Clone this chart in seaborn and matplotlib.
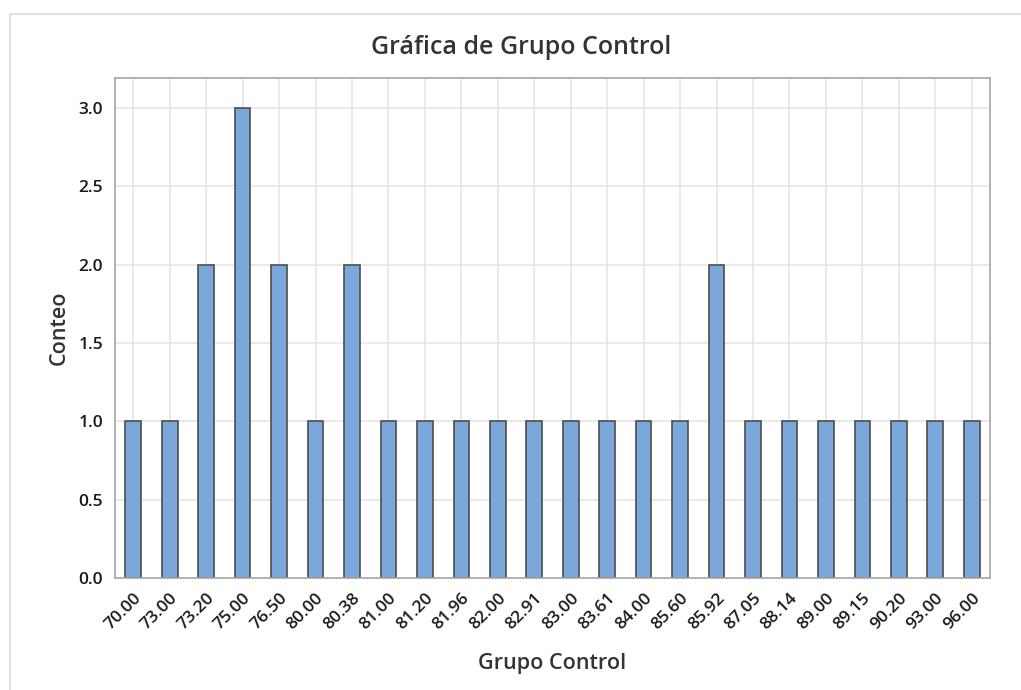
import matplotlib
matplotlib.use("Agg")
import matplotlib.pyplot as plt
import seaborn as sns
import pandas as pd
from matplotlib.lines import Line2D

# datos
valores = ["70.00", "73.00", "73.20", "75.00", "76.50", "80.00", "80.38", "81.00",
           "81.20", "81.96", "82.00", "82.91", "83.00", "83.61", "84.00", "85.60",
           "85.92", "87.05", "88.14", "89.00", "89.15", "90.20", "93.00", "96.00"]
conteo = [1, 1, 2, 3, 2, 1, 2, 1, 1, 1, 1, 1, 1, 1, 1, 1, 2, 1, 1, 1, 1, 1, 1, 1]

df = pd.DataFrame({"Grupo Control": valores, "Conteo": conteo})

sns.set_style("white")
plt.rcParams["font.family"] = ["Open Sans", "DejaVu Sans"]

fig = plt.figure(figsize=(10.21, 6.9), dpi=100)
ax = fig.add_axes([115 / 1021, 1 - 578 / 690, 875 / 1021, 500 / 690])

sns.barplot(data=df, x="Grupo Control", y="Conteo", color="#7BA7DB",
            edgecolor="#4D4D4D", linewidth=1.2, width=0.43, saturation=1, ax=ax)

ax.set_xlim(-0.5, len(valores) - 0.5)
ax.set_ylim(0, 3.19)
ax.set_yticks([0, 0.5, 1.0, 1.5, 2.0, 2.5, 3.0])
ax.set_yticklabels([f"{v:.1f}" for v in ax.get_yticks()])
ax.grid(True, color="#E6E6E6", linewidth=1.2)
ax.set_axisbelow(True)

for s in ax.spines.values():
    s.set_color("#A6A6A6")
    s.set_linewidth(1.2)

ax.tick_params(axis="both", length=5, color="#A6A6A6", width=1,
               labelsize=12.5, labelcolor="#1A1A1A")
plt.setp(ax.get_xticklabels(), rotation=45, ha="right", rotation_mode="anchor",
         fontweight="semibold")
plt.setp(ax.get_yticklabels(), fontweight="semibold")

ax.set_xlabel("Grupo Control", fontsize=15.5, color="#333333", labelpad=15,
              fontweight="semibold")
ax.set_ylabel("Conteo", fontsize=15.5, color="#333333", labelpad=6,
              fontweight="semibold")
fig.text(521 / 1021, 1 - 48 / 690, "Gráfica de Grupo Control", ha="center",
         va="center", fontsize=18, color="#333333", fontweight="semibold")

# marco exterior
fig.add_artist(Line2D([10 / 1021, 1], [1 - 14 / 690, 1 - 14 / 690],
                      color="#E0E0E0", linewidth=1.5, transform=fig.transFigure))
fig.add_artist(Line2D([10 / 1021, 10 / 1021], [0, 1 - 14 / 690],
                      color="#E0E0E0", linewidth=1.5, transform=fig.transFigure))

fig.savefig("out.png", dpi=100)
